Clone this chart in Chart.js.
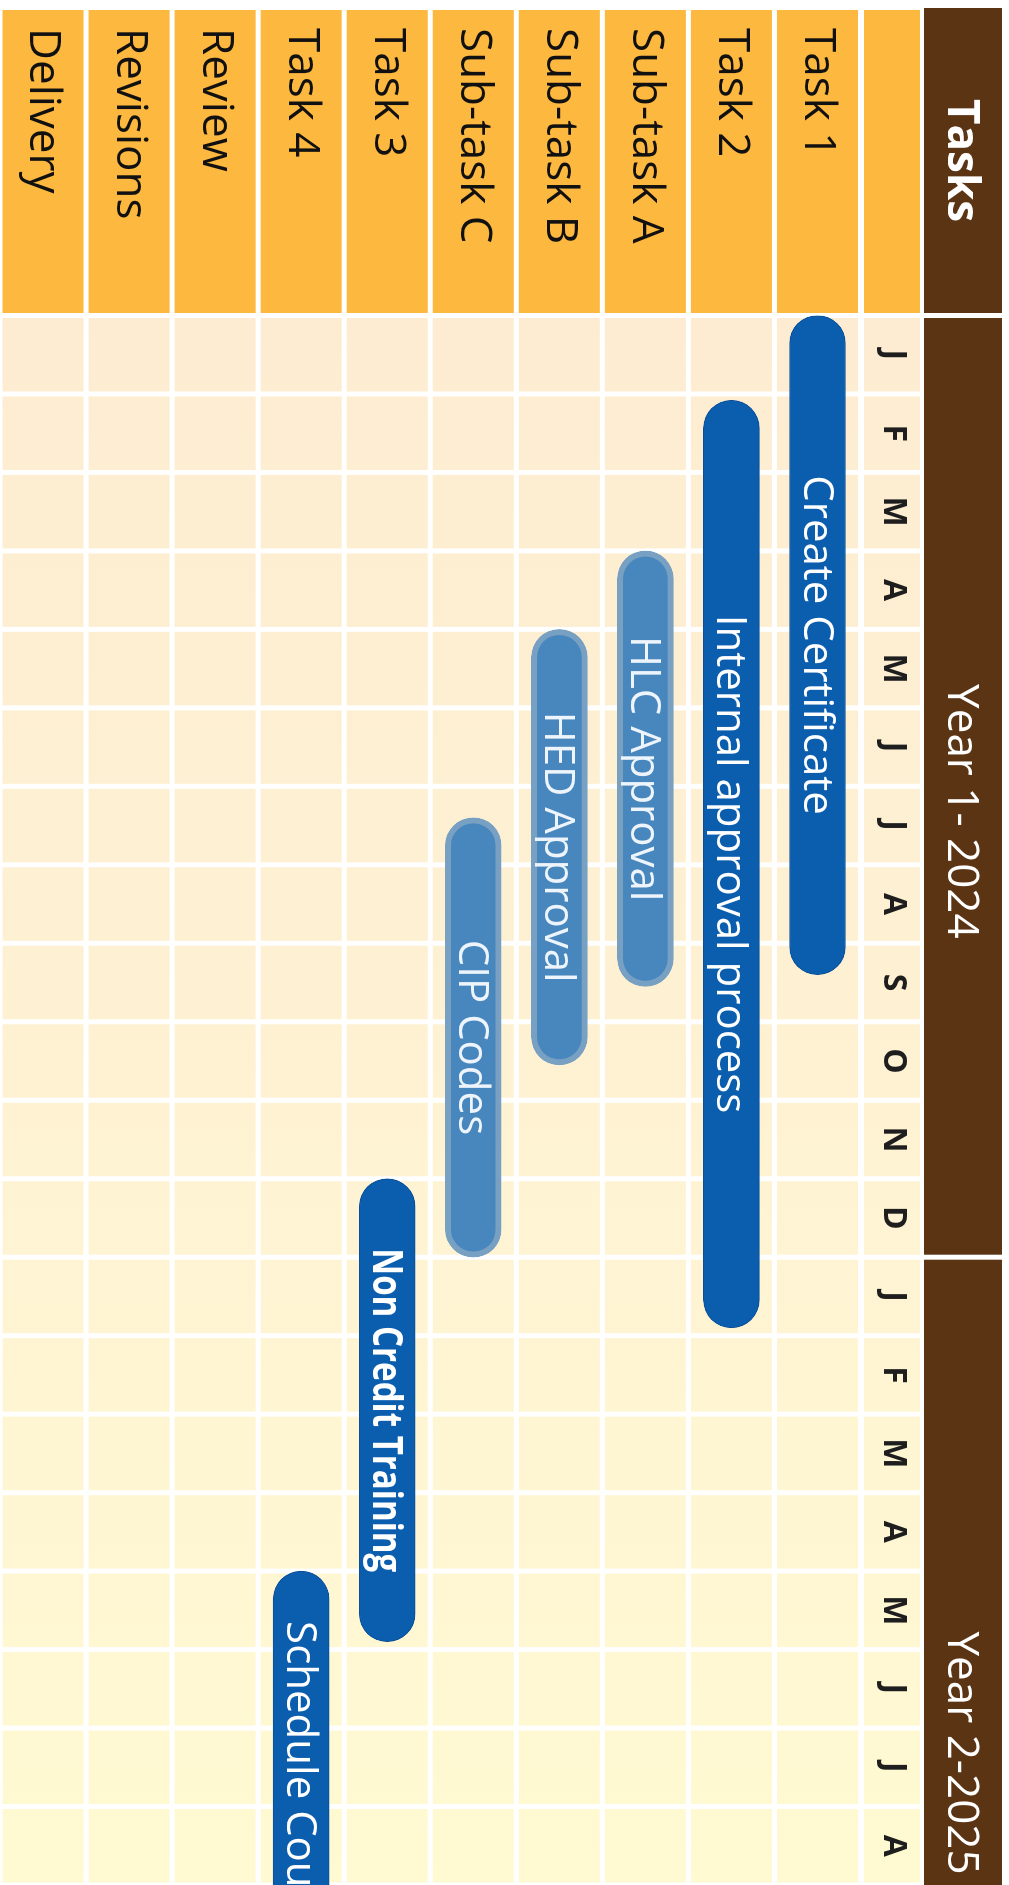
<!DOCTYPE html>
<html>
<head>
<meta charset="utf-8">
<title>Gantt</title>
<script src="https://cdn.jsdelivr.net/npm/chart.js@4.4.1/dist/chart.umd.min.js"></script>
<style>
    html, body { margin: 0; padding: 0; background: #fff; overflow: hidden; }
    /* chart is drawn lying down, then turned a quarter clockwise */
    #wrap {
        position: absolute; left: 0; top: 0;
        width: 1885px; height: 1009px;
        transform-origin: 0 0;
        transform: translateX(1009px) rotate(90deg);
    }
</style>
</head>
<body>
<div id="wrap"><canvas id="gantt" width="1885" height="1009"></canvas></div>
<script>
const taskRows = ['Task 1', 'Task 2', 'Sub-task A', 'Sub-task B', 'Sub-task C', 'Task 3', 'Task 4', 'Review', 'Revisions', 'Delivery'];
const monthLetters = ['J', 'F', 'M', 'A', 'M', 'J', 'J', 'A', 'S', 'O', 'N', 'D', 'J', 'F', 'M', 'A', 'M', 'J', 'J', 'A'];
const yearLabels = ['Year 1- 2024', 'Year 2-2025'];
const headerLabel = 'Tasks';

// bars, in months from January of year 1
const barNames = ['Create Certificate', 'Internal approval process', 'HLC Approval', 'HED Approval', 'CIP Codes', 'Non Credit Training', 'Schedule Courses'];
const barRows = ['Task 1', 'Task 2', 'Sub-task A', 'Sub-task B', 'Sub-task C', 'Task 3', 'Task 4'];
const barStart = [0, 1.08, 3.0, 4.0, 6.4, 11.0, 16.0];
const barEnd = [8.4, 12.9, 8.55, 9.55, 12.0, 16.9, 21.7];

const subTaskRows = ['Sub-task A', 'Sub-task B', 'Sub-task C'];
const boldBars = ['Non Credit Training'];

const FONT = '"Open Sans", "Noto Sans", sans-serif';
const GAP = 2.5;

const rowData = taskRows.map(row => {
    const i = barRows.indexOf(row);
    return i < 0 ? null : [barStart[i], barEnd[i]];
});
const rowBarName = taskRows.map(row => {
    const i = barRows.indexOf(row);
    return i < 0 ? '' : barNames[i];
});
const isSub = i => subTaskRows.includes(taskRows[i]);

const ganttBackground = {
    id: 'ganttBackground',
    beforeDraw(chart) {
        const { ctx, chartArea, scales: { x, y } } = chart;
        const half = (y.getPixelForValue(1) - y.getPixelForValue(0)) / 2;
        const headTop = 7, headBottom = 85;
        const monthTop = 89, monthBottom = chartArea.top - GAP - 1;
        const labelLeft = 10, labelRight = chartArea.left - GAP;

        ctx.save();
        const cream = ctx.createLinearGradient(chartArea.left, 0, chartArea.right, 0);
        cream.addColorStop(0, '#fdecd1');
        cream.addColorStop(0.5, '#fef2d3');
        cream.addColorStop(1, '#fffad2');

        // brown header
        ctx.fillStyle = '#5b3414';
        ctx.fillRect(8, headTop, labelRight - 8, headBottom - headTop);
        yearLabels.forEach((label, k) => {
            const a = x.getPixelForValue(k * 12) + GAP;
            const b = Math.min(x.getPixelForValue((k + 1) * 12) - GAP, chart.width);
            ctx.fillRect(a, headTop, b - a, headBottom - headTop);
        });

        const drawRow = (top, bottom) => {
            ctx.fillStyle = '#fdb83f';
            ctx.fillRect(labelLeft, top, labelRight - labelLeft, bottom - top);
            ctx.fillStyle = cream;
            monthLetters.forEach((m, i) => {
                const a = x.getPixelForValue(i) + GAP;
                const b = x.getPixelForValue(i + 1) - GAP;
                ctx.fillRect(a, top, b - a, bottom - top);
            });
        };

        drawRow(monthTop, monthBottom);
        taskRows.forEach((row, r) => {
            const cy = y.getPixelForValue(r);
            drawRow(cy - half + GAP, cy + half - GAP);
        });

        // header texts
        ctx.fillStyle = '#ffffff';
        ctx.textAlign = 'center';
        ctx.textBaseline = 'middle';
        ctx.font = 'bold 44px ' + FONT;
        ctx.fillText(headerLabel, (8 + labelRight) / 2, (headTop + headBottom) / 2 + 2);
        ctx.font = '44px ' + FONT;
        yearLabels.forEach((label, k) => {
            const cx = (x.getPixelForValue(k * 12) + x.getPixelForValue((k + 1) * 12)) / 2 + 25;
            ctx.fillText(label, cx, (headTop + headBottom) / 2 + 2);
        });
        ctx.restore();
    }
};

const barLabels = {
    id: 'barLabels',
    afterDatasetsDraw(chart) {
        const { ctx } = chart;
        const meta = chart.getDatasetMeta(0);
        ctx.save();
        ctx.textAlign = 'center';
        ctx.textBaseline = 'middle';
        meta.data.forEach((bar, r) => {
            const name = rowBarName[r];
            if (!name) return;
            const { x, y, base } = bar.getProps(['x', 'y', 'base'], true);
            const bold = boldBars.includes(name);
            ctx.font = (bold ? 'bold ' : '') + '42px ' + FONT;
            ctx.fillStyle = isSub(r) ? '#eef4fb' : '#ffffff';
            if (bold) {
                ctx.fillText(name, (x + base) / 2, y + 2, 324);
            } else {
                ctx.fillText(name, (x + base) / 2, y + 2);
            }
        });
        ctx.restore();
    }
};

Chart.defaults.font.family = FONT;

new Chart(document.getElementById('gantt'), {
    type: 'bar',
    data: {
        labels: taskRows,
        datasets: [{
            data: rowData,
            backgroundColor: c => isSub(c.dataIndex) ? '#4887be' : '#0b5dae',
            borderColor: c => isSub(c.dataIndex) ? '#78a0c3' : '#0a4f98',
            borderWidth: c => isSub(c.dataIndex) ? 6 : 1,
            borderRadius: 28,
            borderSkipped: false,
            barThickness: 56
        }]
    },
    options: {
        indexAxis: 'y',
        responsive: false,
        animation: false,
        layout: { padding: { top: 87, left: 28, right: 0, bottom: 0 } },
        plugins: {
            legend: { display: false },
            tooltip: { enabled: false }
        },
        scales: {
            x: {
                type: 'linear',
                position: 'top',
                min: 0,
                max: 20,
                grid: { display: false, drawTicks: false },
                border: { display: false },
                ticks: {
                    color: '#1e1e1e',
                    font: { size: 32, weight: 'bold' },
                    padding: 13,
                    autoSkip: false,
                    maxRotation: 0,
                    callback: (value, index) => monthLetters[index]
                },
                afterBuildTicks: axis => {
                    axis.ticks = monthLetters.map((m, i) => ({ value: i + 0.5 }));
                },
                afterFit: axis => {
                    axis.height = 61.5;
                    axis.paddingLeft = 0;
                    axis.paddingRight = 0;
                }
            },
            y: {
                type: 'category',
                grid: { display: false, drawTicks: false },
                border: { display: false },
                ticks: {
                    color: '#111111',
                    font: { size: 44 },
                    crossAlign: 'far',
                    padding: 0,
                    autoSkip: false
                },
                afterFit: axis => {
                    axis.width = 315.5 - 28;
                    axis.paddingTop = 0;
                    axis.paddingBottom = 0;
                }
            }
        }
    },
    plugins: [ganttBackground, barLabels]
});
</script>
</body>
</html>
